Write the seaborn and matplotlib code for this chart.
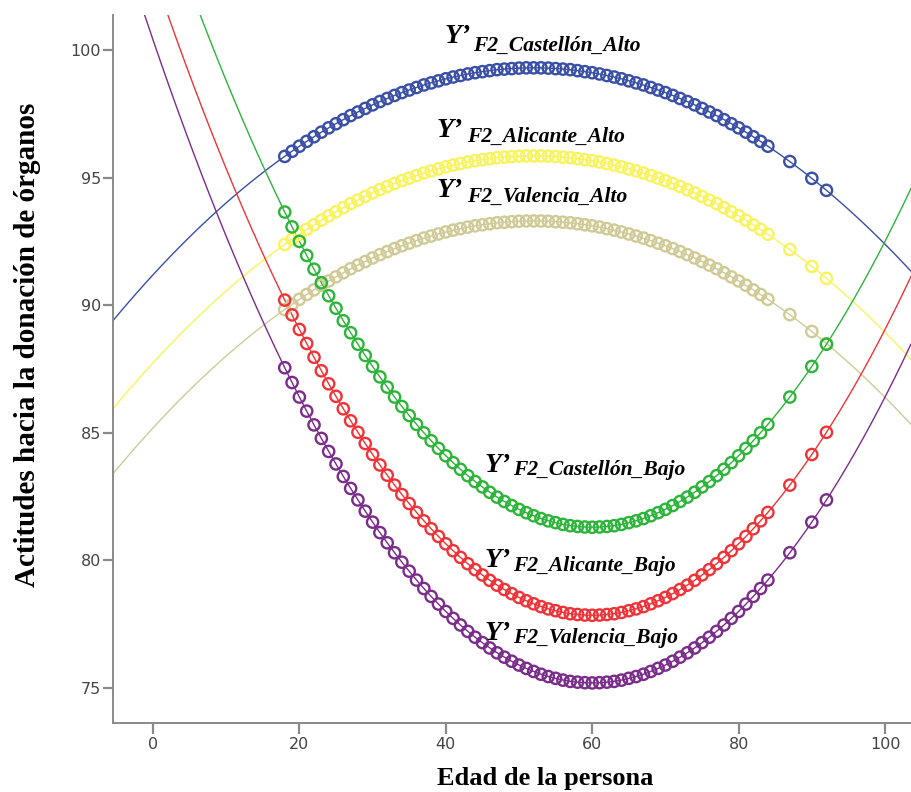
import numpy as np
import pandas as pd
import seaborn as sns
import matplotlib.pyplot as plt

# ages of the people (one predicted value per age)
edad = list(range(18, 85)) + [87, 90, 92]

castellon_alto = [95.83, 96.03, 96.23, 96.42, 96.60, 96.78, 96.95, 97.11, 97.27, 97.43,
                  97.57, 97.71, 97.85, 97.98, 98.10, 98.22, 98.33, 98.43, 98.53, 98.63,
                  98.71, 98.79, 98.87, 98.94, 99.00, 99.06, 99.11, 99.15, 99.19, 99.23,
                  99.25, 99.27, 99.29, 99.30, 99.30, 99.30, 99.29, 99.27, 99.25, 99.23,
                  99.19, 99.15, 99.11, 99.06, 99.00, 98.94, 98.87, 98.79, 98.71, 98.63,
                  98.53, 98.43, 98.33, 98.22, 98.10, 97.98, 97.85, 97.71, 97.57, 97.43,
                  97.27, 97.11, 96.95, 96.78, 96.60, 96.42, 96.23, 95.63, 94.97, 94.50]
alicante_alto = [92.38, 92.58, 92.78, 92.97, 93.15, 93.33, 93.50, 93.66, 93.82, 93.98,
                 94.12, 94.26, 94.40, 94.53, 94.65, 94.77, 94.88, 94.98, 95.08, 95.18,
                 95.26, 95.34, 95.42, 95.49, 95.55, 95.61, 95.66, 95.70, 95.74, 95.78,
                 95.80, 95.82, 95.84, 95.85, 95.85, 95.85, 95.84, 95.82, 95.80, 95.78,
                 95.74, 95.70, 95.66, 95.61, 95.55, 95.49, 95.42, 95.34, 95.26, 95.18,
                 95.08, 94.98, 94.88, 94.77, 94.65, 94.53, 94.40, 94.26, 94.12, 93.98,
                 93.82, 93.66, 93.50, 93.33, 93.15, 92.97, 92.78, 92.18, 91.52, 91.05]
valencia_alto = [89.83, 90.03, 90.23, 90.42, 90.60, 90.78, 90.95, 91.11, 91.27, 91.43,
                 91.57, 91.71, 91.85, 91.98, 92.10, 92.22, 92.33, 92.43, 92.53, 92.63,
                 92.71, 92.79, 92.87, 92.94, 93.00, 93.06, 93.11, 93.15, 93.19, 93.23,
                 93.25, 93.27, 93.29, 93.30, 93.30, 93.30, 93.29, 93.27, 93.25, 93.23,
                 93.19, 93.15, 93.11, 93.06, 93.00, 92.94, 92.87, 92.79, 92.71, 92.63,
                 92.53, 92.43, 92.33, 92.22, 92.10, 91.98, 91.85, 91.71, 91.57, 91.43,
                 91.27, 91.11, 90.95, 90.78, 90.60, 90.42, 90.23, 89.63, 88.97, 88.50]
castellon_bajo = [93.65, 93.07, 92.50, 91.95, 91.41, 90.88, 90.37, 89.88, 89.39, 88.92,
                  88.47, 88.03, 87.60, 87.19, 86.79, 86.40, 86.03, 85.68, 85.33, 85.00,
                  84.69, 84.39, 84.10, 83.83, 83.57, 83.32, 83.09, 82.88, 82.67, 82.48,
                  82.31, 82.15, 82.00, 81.87, 81.75, 81.64, 81.55, 81.48, 81.41, 81.36,
                  81.33, 81.31, 81.30, 81.31, 81.33, 81.36, 81.41, 81.48, 81.55, 81.64,
                  81.75, 81.87, 82.00, 82.15, 82.31, 82.48, 82.67, 82.88, 83.09, 83.32,
                  83.57, 83.83, 84.10, 84.39, 84.69, 85.00, 85.33, 86.40, 87.60, 88.47]
alicante_bajo = [90.20, 89.62, 89.05, 88.50, 87.96, 87.43, 86.92, 86.43, 85.94, 85.47,
                 85.02, 84.58, 84.15, 83.74, 83.34, 82.95, 82.58, 82.23, 81.88, 81.55,
                 81.24, 80.94, 80.65, 80.38, 80.12, 79.87, 79.64, 79.43, 79.22, 79.03,
                 78.86, 78.70, 78.55, 78.42, 78.30, 78.19, 78.10, 78.03, 77.96, 77.91,
                 77.88, 77.86, 77.85, 77.86, 77.88, 77.91, 77.96, 78.03, 78.10, 78.19,
                 78.30, 78.42, 78.55, 78.70, 78.86, 79.03, 79.22, 79.43, 79.64, 79.87,
                 80.12, 80.38, 80.65, 80.94, 81.24, 81.55, 81.88, 82.95, 84.15, 85.02]
valencia_bajo = [87.55, 86.97, 86.40, 85.85, 85.31, 84.78, 84.27, 83.78, 83.29, 82.82,
                 82.37, 81.93, 81.50, 81.09, 80.69, 80.30, 79.93, 79.58, 79.23, 78.90,
                 78.59, 78.29, 78.00, 77.73, 77.47, 77.22, 76.99, 76.78, 76.57, 76.38,
                 76.21, 76.05, 75.90, 75.77, 75.65, 75.54, 75.45, 75.38, 75.31, 75.26,
                 75.23, 75.21, 75.20, 75.21, 75.23, 75.26, 75.31, 75.38, 75.45, 75.54,
                 75.65, 75.77, 75.90, 76.05, 76.21, 76.38, 76.57, 76.78, 76.99, 77.22,
                 77.47, 77.73, 78.00, 78.29, 78.59, 78.90, 79.23, 80.30, 81.50, 82.37]

grupos = ['Valencia_Alto', 'Alicante_Alto', 'Castellón_Alto',
          'Castellón_Bajo', 'Alicante_Bajo', 'Valencia_Bajo']
valores = [valencia_alto, alicante_alto, castellon_alto,
           castellon_bajo, alicante_bajo, valencia_bajo]
colores = ['#d0cb96', '#f8f35e', '#3a4fa6', '#2db43a', '#ef3439', '#7a2d8a']

df = pd.DataFrame({
    'Edad': np.tile(edad, len(grupos)),
    'Actitud': np.concatenate(valores),
    'Grupo': np.repeat(grupos, len(edad)),
})

sns.set_style('ticks')
plt.rcParams['font.family'] = ['DejaVu Sans']

fig = plt.figure(figsize=(9.12, 7.92), dpi=100)
ax = fig.add_axes([113 / 912, 1 - 723 / 792, 798 / 912, 708 / 792])
ax.set_xlim(-5.46, 103.55)
ax.set_ylim(73.63, 101.37)

# quadratic fit lines over the whole axis range, then hollow markers
for g, c in zip(grupos, colores):
    sub = df[df['Grupo'] == g]
    sns.regplot(data=sub, x='Edad', y='Actitud', order=2, ci=None, scatter=False,
                truncate=False, color=c, line_kws={'lw': 1.0}, ax=ax)
for g, c in zip(grupos, colores):
    sub = df[df['Grupo'] == g]
    sns.scatterplot(data=sub, x='Edad', y='Actitud', marker='o', s=66,
                    facecolor='none', edgecolor=c, linewidth=1.7, ax=ax, zorder=3)

ax.set_xlim(-5.46, 103.55)
ax.set_ylim(73.63, 101.37)
ax.set_xticks([0, 20, 40, 60, 80, 100])
ax.set_yticks([75, 80, 85, 90, 95, 100])
ax.set_xlabel('')
ax.set_ylabel('')

for side in ['top', 'right']:
    ax.spines[side].set_visible(False)
for side in ['left', 'bottom']:
    ax.spines[side].set_color('#8a8a8a')
    ax.spines[side].set_linewidth(1.4)
ax.tick_params(axis='both', direction='out', length=7, width=1.6, color='#8a8a8a',
               labelsize=11.5, labelcolor='#444444', pad=1.5, bottom=True, left=True)
ax.tick_params(axis='x', length=8, pad=2)

serif = dict(family='Liberation Serif', weight='bold', color='black')
fig.text(545 / 912, 1 - 778 / 792, 'Edad de la persona', ha='center', va='center',
         fontsize=19, **serif)
fig.text(28 / 912, 1 - 345 / 792, 'Actitudes hacia la donación de órganos', ha='center',
         va='center', rotation=90, fontsize=21, **serif)

# curve labels: big Y' with a subscript
etiquetas = [('Castellón_Alto', 445, 43, 473, 51),
             ('Alicante_Alto', 437, 137, 467, 142),
             ('Valencia_Alto', 437, 197, 467, 202),
             ('Castellón_Bajo', 485, 472, 513, 475),
             ('Alicante_Bajo', 485, 567, 513, 571),
             ('Valencia_Bajo', 485, 640, 513, 643)]
for nombre, xy, yy, xs, ys in etiquetas:
    fig.text(xy / 912, 1 - yy / 792, 'Y’', ha='left', va='baseline', fontsize=20,
             style='italic', **serif)
    fig.text(xs / 912, 1 - ys / 792, 'F2_' + nombre, ha='left', va='baseline',
             fontsize=15.5, style='italic', **serif)

plt.savefig('out.png', dpi=100)
